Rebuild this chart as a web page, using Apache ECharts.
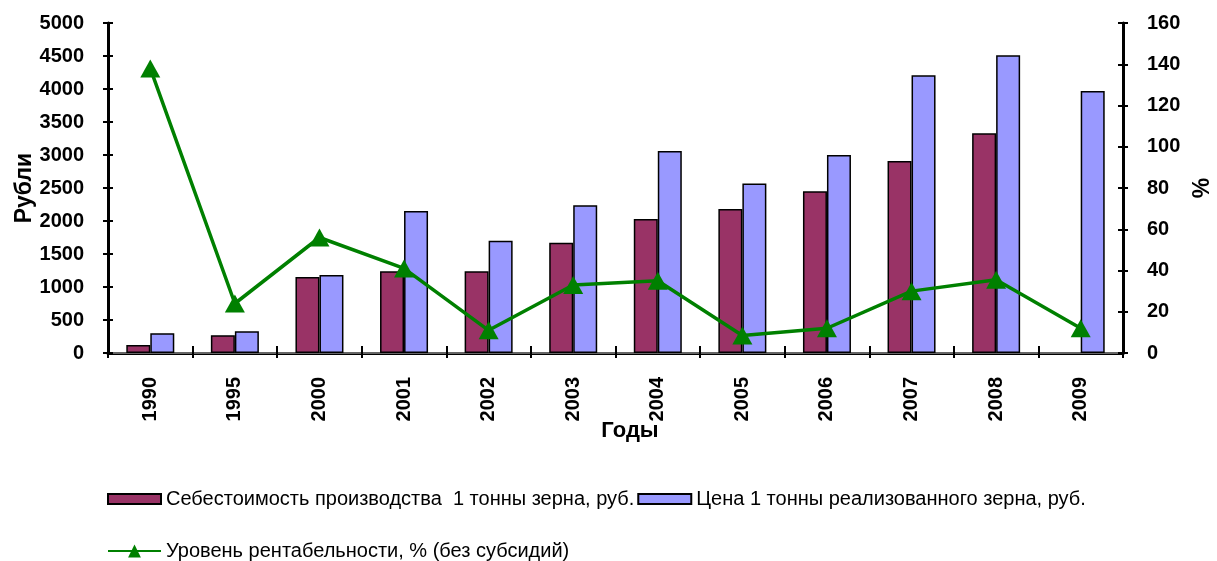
<!DOCTYPE html>
<html>
<head>
<meta charset="utf-8">
<script src="https://cdn.jsdelivr.net/npm/echarts@6/dist/echarts.min.js"></script>
<style>
  html, body { margin: 0; padding: 0; background: #fff; }
  #chart { width: 1217px; height: 561px; }
</style>
</head>
<body>
<div id="chart"></div>
<script>
// Годы
const years = ['1990', '1995', '2000', '2001', '2002', '2003', '2004', '2005', '2006', '2007', '2008', '2009'];
// Себестоимость производства 1 тонны зерна, руб.
const costPerTon = [120, 270, 1150, 1240, 1240, 1670, 2030, 2180, 2450, 2910, 3330, null];
// Цена 1 тонны реализованного зерна, руб.
const pricePerTon = [300, 330, 1180, 2150, 1700, 2240, 3060, 2570, 3000, 4210, 4510, 3970];
// Уровень рентабельности, % (без субсидий)
const profitability = [138, 24, 56, 41, 11, 33, 35, 8.5, 12, 30, 35.5, 12];

const costName = 'Себестоимость производства  1 тонны зерна, руб.';
const priceName = 'Цена 1 тонны реализованного зерна, руб.';
const lineName = 'Уровень рентабельности, % (без субсидий)';

const FONT = '"Liberation Sans", Arial, sans-serif';
const axisText = { color: '#000', fontFamily: FONT, fontWeight: 'bold', fontSize: 20 };
const plain = v => String(v);

const chart = echarts.init(document.getElementById('chart'), null, { renderer: 'canvas' });

// label-less twin axes give the ticks their "cross" look (both sides of the line)
const crossY = (pos, max, interval) => ({
  type: 'value', position: pos, min: 0, max: max, interval: interval,
  axisLine: { show: false }, axisLabel: { show: false }, splitLine: { show: false },
  axisTick: { show: true, inside: true, length: 5, lineStyle: { color: '#000', width: 2 } }
});

chart.setOption({
  animation: false,
  textStyle: { fontFamily: FONT },
  grid: { left: 108, right: 94, top: 23, bottom: 208, containLabel: false, outerBoundsMode: 'none' },
  legend: [
    {
      data: [costName, priceName],
      left: 102, top: 484,
      itemWidth: 53, itemHeight: 10, itemGap: 3,
      icon: 'rect',
      itemStyle: { borderColor: '#000', borderWidth: 2 },
      textStyle: { fontFamily: FONT, fontSize: 20, color: '#000' }
    },
    {
      data: [lineName],
      left: 102, top: 536,
      itemWidth: 53, itemHeight: 16, itemGap: 3,
      textStyle: { fontFamily: FONT, fontSize: 20, color: '#000' }
    }
  ],
  xAxis: [
    {
      type: 'category', data: years, position: 'bottom',
      axisLine: { lineStyle: { color: '#000', width: 3 } },
      axisTick: { show: true, length: 5, lineStyle: { color: '#000', width: 2 } },
      axisLabel: Object.assign({ rotate: 90, margin: 24, interval: 0 }, axisText),
      name: 'Годы', nameLocation: 'middle', nameGap: 67, nameMoveOverlap: false,
      nameTextStyle: { color: '#000', fontFamily: FONT, fontWeight: 'bold', fontSize: 22, padding: [0, 0, 0, 29] }
    },
    {
      type: 'category', data: years, position: 'bottom',
      axisLine: { show: false }, axisLabel: { show: false },
      axisTick: { show: true, inside: true, length: 7, lineStyle: { color: '#000', width: 2 } }
    },
    {
      type: 'category', data: years, position: 'top',
      axisLine: { show: true, lineStyle: { color: '#888', width: 1.5 } },
      axisLabel: { show: false }, axisTick: { show: false }
    }
  ],
  yAxis: [
    {
      type: 'value', position: 'left', min: 0, max: 5000, interval: 500,
      axisLine: { show: true, lineStyle: { color: '#000', width: 3 } },
      axisTick: { show: true, length: 5, lineStyle: { color: '#000', width: 2 } },
      axisLabel: Object.assign({ margin: 24, formatter: plain }, axisText),
      splitLine: { show: false },
      name: 'Рубли', nameLocation: 'middle', nameGap: 72, nameRotate: 90, nameMoveOverlap: false,
      nameTextStyle: { color: '#000', fontFamily: FONT, fontWeight: 'bold', fontSize: 23 }
    },
    {
      type: 'value', position: 'right', min: 0, max: 160, interval: 20,
      axisLine: { show: true, lineStyle: { color: '#000', width: 3 } },
      axisTick: { show: true, length: 5, lineStyle: { color: '#000', width: 2 } },
      axisLabel: Object.assign({ margin: 24, formatter: plain }, axisText),
      splitLine: { show: false },
      name: '%', nameLocation: 'middle', nameGap: 68, nameRotate: 90, nameMoveOverlap: false,
      nameTextStyle: { color: '#000', fontFamily: FONT, fontWeight: 'bold', fontSize: 23 }
    },
    crossY('left', 5000, 500),
    crossY('right', 160, 20)
  ],
  series: [
    {
      name: costName, type: 'bar', data: costPerTon,
      xAxisIndex: 0, yAxisIndex: 0,
      barWidth: 24, barGap: '0%',
      itemStyle: { color: '#993366', borderColor: '#000', borderWidth: 1.5 }
    },
    {
      name: priceName, type: 'bar', data: pricePerTon,
      xAxisIndex: 0, yAxisIndex: 0,
      barWidth: 24, barGap: '0%',
      itemStyle: { color: '#9999FF', borderColor: '#000', borderWidth: 1.5 }
    },
    {
      name: lineName, type: 'line', data: profitability,
      xAxisIndex: 0, yAxisIndex: 1,
      symbol: 'triangle', symbolSize: [20, 18],
      lineStyle: { color: '#008000', width: 3.5 },
      itemStyle: { color: '#008000' },
      z: 5
    }
  ]
});
</script>
</body>
</html>
